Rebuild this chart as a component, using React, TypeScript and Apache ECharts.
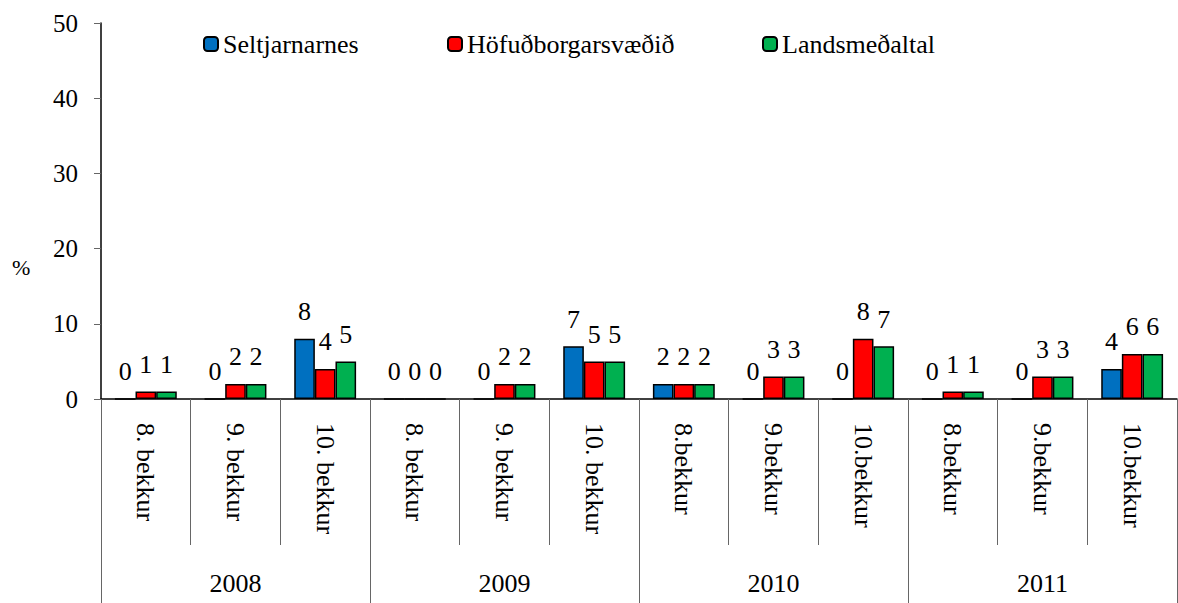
import React, { useEffect, useRef } from "react";
import * as echarts from "echarts";

const categories = [
  "8. bekkur", "9. bekkur", "10. bekkur",
  "8. bekkur", "9. bekkur", "10. bekkur",
  "8.bekkur", "9.bekkur", "10.bekkur",
  "8.bekkur", "9.bekkur", "10.bekkur",
];
const years = ["2008", "2009", "2010", "2011"];
const seltjarnarnes = [0, 0, 8, 0, 0, 7, 2, 0, 0, 0, 0, 4];
const hofudborgarsvaedid = [1, 2, 4, 0, 2, 5, 2, 3, 8, 1, 3, 6];
const landsmedaltal = [1, 2, 5, 0, 2, 5, 2, 3, 7, 1, 3, 6];
const yTicks = [0, 10, 20, 30, 40, 50];

const FONT = "Liberation Serif";

export default function App() {
  const ref = useRef<HTMLDivElement>(null);
  useEffect(() => {
    if (!ref.current) return;
    const chart = echarts.init(ref.current, null, { renderer: "svg" });
    const mkSeries = (name: string, data: number[], color: string) => ({
      name,
      type: "bar",
      xAxisIndex: 0,
      yAxisIndex: 0,
      data,
      barWidth: "23%",
      barGap: "0%",
      itemStyle: { color, borderColor: "#000", borderWidth: 1.5 },
      label: {
        show: true,
        position: "top",
        distance: 14,
        fontFamily: FONT,
        fontSize: 26,
        color: "#000",
      },
    });
    const legendBase = {
      top: 26,
      itemWidth: 14,
      itemHeight: 14,
      textStyle: { fontFamily: FONT, fontSize: 26, color: "#000" },
      selectedMode: false,
    };
    chart.setOption({
      animation: false,
      backgroundColor: "#fff",
      textStyle: { fontFamily: FONT },
      grid: { left: 101, right: 1, top: 23, bottom: 204, containLabel: false },
      legend: [
        { ...legendBase, left: 198, data: ["Seltjarnarnes"] },
        { ...legendBase, left: 442, data: ["Höfuðborgarsvæðið"] },
        { ...legendBase, left: 757, data: ["Landsmeðaltal"] },
      ],
      graphic: [
        {
          type: "text",
          left: 12,
          top: 256,
          style: { text: "%", fontFamily: FONT, fontSize: 22, fill: "#000" },
        },
      ],
      xAxis: [
        {
          type: "category",
          data: categories,
          position: "bottom",
          axisLine: { show: true, lineStyle: { color: "#000", width: 1.5 } },
          axisTick: {
            show: true,
            interval: 0,
            alignWithLabel: false,
            length: 146,
            lineStyle: { color: "#666", width: 1 },
          },
          axisLabel: {
            interval: 0,
            rotate: -90,
            margin: 24,
            fontFamily: FONT,
            fontSize: 26,
            color: "#000",
          },
        },
        {
          type: "category",
          data: years,
          position: "bottom",
          offset: 146,
          axisLine: { show: false },
          axisTick: {
            show: true,
            interval: 0,
            alignWithLabel: false,
            length: 58,
            lineStyle: { color: "#666", width: 1 },
          },
          axisLabel: {
            interval: 0,
            margin: 25,
            fontFamily: FONT,
            fontSize: 26,
            color: "#000",
          },
        },
      ],
      yAxis: {
        type: "value",
        min: yTicks[0],
        max: yTicks[yTicks.length - 1],
        interval: 10,
        splitLine: { show: false },
        axisLine: { show: true, lineStyle: { color: "#000", width: 1.5 } },
        axisTick: { show: true, length: 7, lineStyle: { color: "#666" } },
        axisLabel: {
          margin: 23,
          fontFamily: FONT,
          fontSize: 25,
          color: "#000",
        },
      },
      series: [
        mkSeries("Seltjarnarnes", seltjarnarnes, "#0070C0"),
        mkSeries("Höfuðborgarsvæðið", hofudborgarsvaedid, "#FF0000"),
        mkSeries("Landsmeðaltal", landsmedaltal, "#00B050"),
      ],
    });
    return () => chart.dispose();
  }, []);
  return (
    <div style={{ position: "absolute", left: 0, top: 0, width: 1178, height: 603 }}>
      <div ref={ref} style={{ width: 1178, height: 603 }} />
    </div>
  );
}
